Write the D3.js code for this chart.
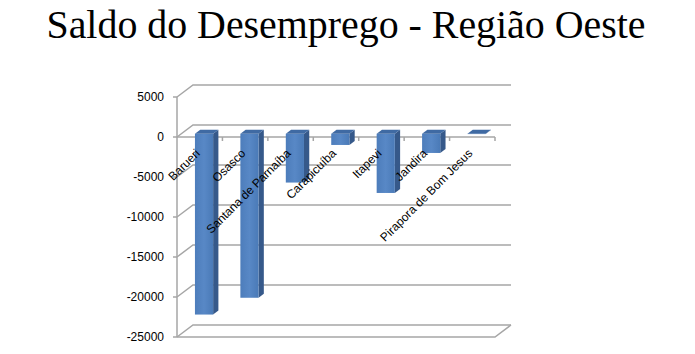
<!doctype html>
<html lang="pt-br">
<head>
	<meta charset="UTF-8">
	<title>Saldo do Desemprego - Região Oeste</title>
	<style>
		body {
			margin: 0;
			background: #fff;
		}

		.title {
			font-family: "Liberation Serif", "DejaVu Serif", serif;
			font-size: 40px;
			fill: #000;
		}

		.tick-label {
			font-family: "Liberation Sans", Arial, sans-serif;
			font-size: 12px;
			fill: #000;
		}

		.grid {
			fill: none;
			stroke: #a6a6a6;
			stroke-width: 1.5;
		}
	</style>
</head>
<body>
	<script src="https://cdn.jsdelivr.net/npm/d3@7"></script>
	<script>
		var categories = ['Barueri', 'Osasco', 'Santana de Parnaíba', 'Carapicuíba', 'Itapevi', 'Jandira', 'Pirapora de Bom Jesus'],
			saldo = [-22600, -20500, -6100, -1400, -7400, -2400, -40],
			yTicks = [5000, 0, -5000, -10000, -15000, -20000, -25000];

		var w = 695,
			h = 354,
			depthX = 16,
			depthY = -12,
			barFront = 0.27,
			barBack = 0.6;

		var svg = d3.select('body')
			.append('svg')
			.attr('width', w)
			.attr('height', h);

		// title
		svg.append('text')
			.attr('class', 'title')
			.attr('x', 346)
			.attr('y', 38)
			.attr('text-anchor', 'middle')
			.attr('textLength', 599)
			.attr('lengthAdjust', 'spacingAndGlyphs')
			.text('Saldo do Desemprego - Região Oeste');

		var xScale = d3.scaleBand()
			.domain(categories)
			.range([177, 495])
			.padding(0);

		var yScale = d3.scaleLinear()
			.domain([-25000, 5000])
			.range([337, 97]);

		var x0 = xScale.range()[0],
			x1 = xScale.range()[1];

		// walls: back gridlines + left wall diagonals
		svg.selectAll('path.grid-line')
			.data(yTicks)
			.enter()
			.append('path')
			.attr('class', 'grid')
			.attr('d', function(d) {
				var y = yScale(d);
				return 'M' + x0 + ',' + y + 'L' + (x0 + depthX) + ',' + (y + depthY) + 'L' + (x1 + depthX) + ',' + (y + depthY);
			});

		// floor front edge
		var yFloor = yScale(-25000);
		svg.append('path')
			.attr('class', 'grid')
			.attr('d', 'M' + x0 + ',' + yFloor + 'L' + x1 + ',' + yFloor + 'L' + (x1 + depthX) + ',' + (yFloor + depthY));

		// left axis
		svg.append('path')
			.attr('class', 'grid')
			.attr('d', 'M' + x0 + ',' + yScale(5000) + 'L' + x0 + ',' + yFloor);

		svg.selectAll('path.ytick')
			.data(yTicks)
			.enter()
			.append('path')
			.attr('class', 'grid')
			.attr('d', function(d) {
				return 'M' + (x0 - 4) + ',' + yScale(d) + 'L' + x0 + ',' + yScale(d);
			});

		svg.selectAll('text.ylab')
			.data(yTicks)
			.enter()
			.append('text')
			.attr('class', 'tick-label')
			.attr('x', 164)
			.attr('y', function(d) { return yScale(d); })
			.attr('dy', '0.35em')
			.attr('text-anchor', 'end')
			.text(function(d) { return d; });

		// category axis at zero
		var yZero = yScale(0);
		svg.append('path')
			.attr('class', 'grid')
			.attr('d', 'M' + x0 + ',' + yZero + 'L' + x1 + ',' + yZero);

		svg.selectAll('path.xtick')
			.data(categories)
			.enter()
			.append('path')
			.attr('class', 'grid')
			.attr('d', function(d) {
				var x = xScale(d) + xScale.bandwidth();
				return 'M' + x + ',' + yZero + 'L' + x + ',' + (yZero + 4);
			});

		// bars (3d columns)
		var bw = xScale.bandwidth();

		var getBar = function(d, i) {
			var left = xScale(categories[i]) + bw * 0.3,
				right = xScale(categories[i]) + bw * 0.7,
				top = yScale(Math.max(0, d)),
				bottom = yScale(Math.min(0, d));
			return {
				fx0: left + depthX * barFront,
				fx1: right + depthX * barFront,
				fyt: top + depthY * barFront,
				fyb: bottom + depthY * barFront,
				bx1: right + depthX * barBack,
				bx0: left + depthX * barBack,
				byt: top + depthY * barBack,
				byb: bottom + depthY * barBack
			};
		};

		var grad = svg.append('defs')
			.append('linearGradient')
			.attr('id', 'barFill')
			.attr('x1', 0).attr('x2', 1).attr('y1', 0).attr('y2', 0);
		grad.append('stop').attr('offset', '0%').attr('stop-color', '#4d7dbb');
		grad.append('stop').attr('offset', '50%').attr('stop-color', '#5888c6');
		grad.append('stop').attr('offset', '100%').attr('stop-color', '#4a7ab7');

		var bars = svg.selectAll('g.bar')
			.data(saldo)
			.enter()
			.append('g')
			.attr('class', 'bar');

		// side face
		bars.append('path')
			.attr('fill', '#36598a')
			.attr('d', function(d, i) {
				var b = getBar(d, i);
				return 'M' + b.fx1 + ',' + b.fyt + 'L' + b.bx1 + ',' + b.byt + 'L' + b.bx1 + ',' + b.byb + 'L' + b.fx1 + ',' + b.fyb + 'Z';
			});

		// front face
		bars.append('rect')
			.attr('fill', 'url(#barFill)')
			.attr('x', function(d, i) { return getBar(d, i).fx0; })
			.attr('y', function(d, i) { return getBar(d, i).fyt; })
			.attr('width', function(d, i) { var b = getBar(d, i); return b.fx1 - b.fx0; })
			.attr('height', function(d, i) { var b = getBar(d, i); return b.fyb - b.fyt; });

		// top face
		bars.append('path')
			.attr('fill', '#3f6aa3')
			.attr('d', function(d, i) {
				var b = getBar(d, i);
				return 'M' + b.fx0 + ',' + b.fyt + 'L' + b.fx1 + ',' + b.fyt + 'L' + b.bx1 + ',' + b.byt + 'L' + b.bx0 + ',' + b.byt + 'Z';
			});

		// category labels
		svg.selectAll('text.xlab')
			.data(categories)
			.enter()
			.append('text')
			.attr('class', 'tick-label')
			.attr('text-anchor', 'end')
			.attr('transform', function(d) {
				var cx = xScale(d) + bw / 2;
				return 'translate(' + (cx + 1) + ',' + (yZero + 17) + ') rotate(-45)';
			})
			.text(function(d) { return d; });
	</script>
</body>
</html>
